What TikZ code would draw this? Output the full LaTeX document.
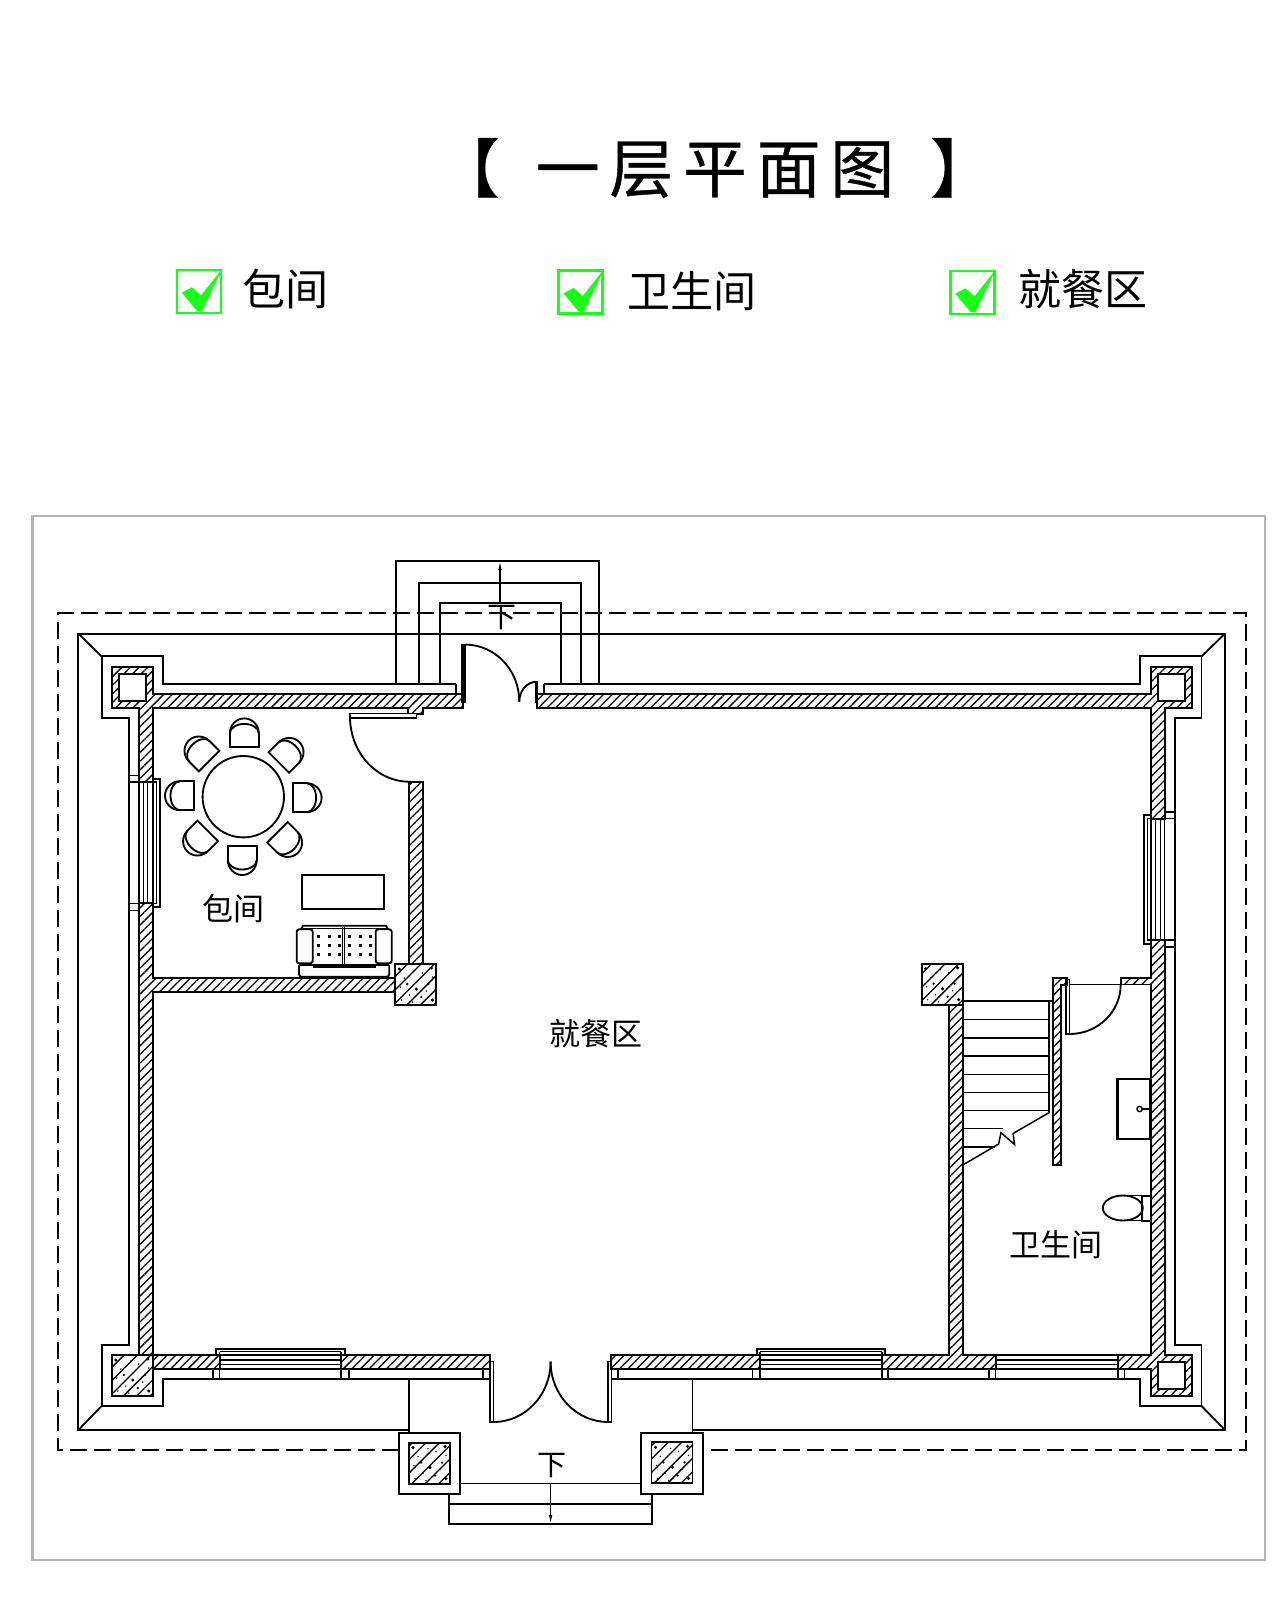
\documentclass[tikz,border=0pt]{standalone}
\usepackage{fontspec}
\setmainfont{Noto Sans CJK SC}
\newfontfamily\titlefont[LetterSpace=15,FakeBold=0.6]{Noto Sans CJK SC}
\usetikzlibrary{patterns.meta}
\usetikzlibrary{arrows.meta}

\definecolor{framegray}{HTML}{B4B4B4}
\definecolor{checkgreen}{HTML}{18FF18}

\tikzset{
    wall/.style={draw, preaction={fill=white},
        pattern={Lines[angle=45, distance=6.1pt, line width=1.3pt]}},
    concrete/.style={draw, preaction={fill=white},
        pattern={Lines[angle=45, distance=9.5pt, line width=1.3pt]}},
    planlabel/.style={inner sep=0pt, font=\fontsize{31}{34}\selectfont},
    headlabel/.style={inner sep=0pt, font=\fontsize{43}{46}\selectfont},
    thinline/.style={line width=1.5pt},
}

\begin{document}
\begin{tikzpicture}[x=1pt, y=-1pt, line width=1.85pt]
\useasboundingbox (0,0) rectangle (1283,1600);

% title and list
\node [inner sep=0pt, font=\titlefont\fontsize{64}{70}\selectfont] (title) at (715,168) {【\hspace{12pt} 一层平面图 \hspace{12pt}】};
\foreach \bx/\by in {177/270, 558.7/270.7, 950.5/271} {
    \draw [checkgreen, line width=2.6pt] (\bx,\by) rectangle ++(44,43);
    \fill [checkgreen] (\bx,\by) ++(4.7,22.7) -- ++(10,-5.4) -- ++(9.3,8) -- ++(21.5,-27) -- ++(-20.8,43.4) -- ++(-4.7,-0.7) -- cycle;
}
\node [headlabel] (headroom) at (285,289.5) {包间};
\node [headlabel] (headbath) at (691.5,291) {卫生间};
\node [headlabel] (headdining) at (1083,289.5) {就餐区};

% frame
\draw [framegray, line width=2.6pt] (32.6,516) rectangle (1265,1560);

% dashed line and roof
\draw [dash pattern=on 17pt off 7pt] (399,1450) -- (58.4,1450) -- (58.4,613) -- (1246,613) -- (1246,1450) -- (703,1450);
\draw (409,1430) -- (78.4,1430) -- (78.4,633.6) -- (1225,633.6) -- (1225,1430) -- (692.5,1430);
\draw (78.4,633.6) -- (101.6,656.4);
\draw (1225,633.6) -- (1201.5,656.4);
\draw (1225,1430) -- (1201.5,1406);
\draw (78.4,1430) -- (101.6,1406);

% eaves
\draw (456,684.3) -- (163.3,684.3) -- (163.3,656.4) -- (101.6,656.4) -- (101.6,717.9) -- (129.4,717.9)
    -- (129.4,1345) -- (101.6,1345) -- (101.6,1406) -- (163.3,1406) -- (163.3,1379) -- (489.8,1379);
\draw (544,684.3) -- (1140.4,684.3) -- (1140.4,656.4) -- (1201.5,656.4) -- (1201.5,717.9) -- (1174.8,717.9)
    -- (1174.8,1345) -- (1201.5,1345) -- (1201.5,1406) -- (1140.4,1406) -- (1140.4,1379) -- (611,1379);

% back steps
\draw (396,684.3) -- (396,561) -- (598.8,561) -- (598.8,684.3);
\draw (419.2,684.3) -- (419.2,582.9) -- (581.2,582.9) -- (581.2,684.3);
\draw (439.6,684.3) -- (439.6,602.9) -- (561.2,602.9) -- (561.2,684.3);
\draw [line width=1.2pt, -{Latex[length=9pt, width=3.5pt]}] (500,602.9) -- (500,561);
\node [inner sep=0pt, font=\fontsize{29}{30}\selectfont] (backdown) at (501.5,618) {下};

% walls
\draw [wall] (463.3,694.3) -- (153,694.3) -- (153,666.8) -- (111.8,666.8) -- (111.8,708) -- (138.8,708)
    -- (138.8,782) -- (153,782) -- (153,708) -- (408.3,708) -- (408.3,714) -- (423.3,714) -- (423.3,708) -- (463.3,708) -- cycle;
\draw [wall] (537,694.3) -- (1151,694.3) -- (1151,666.8) -- (1192,666.8) -- (1192,708) -- (1164.6,708)
    -- (1164.6,818.6) -- (1151,818.6) -- (1151,708) -- (537,708) -- cycle;
\draw [wall] (138.8,903.3) -- (138.8,1355) -- (111.8,1355) -- (111.8,1396.4) -- (153,1396.4) -- (153,1369) -- (219.6,1369)
    -- (219.6,1355) -- (153,1355) -- (153,991.7) -- (395.3,991.7) -- (395.3,977.7) -- (153,977.7) -- (153,903.3) -- cycle;
\draw [wall] (1151,940) -- (1164.6,940) -- (1164.6,1355) -- (1192,1355) -- (1192,1396) -- (1151,1396) -- (1151,1369) -- (1118,1369)
    -- (1118,1355) -- (1151,1355) -- (1151,984.5) -- (1120.7,984.5) -- (1120.7,977.6) -- (1151,977.6) -- cycle;
\draw [wall] (881.8,1355) -- (948.6,1355) -- (948.6,1005) -- (963,1005) -- (963,1355) -- (995.7,1355) -- (995.7,1369) -- (881.8,1369) -- cycle;
\draw [wall] (1053,977.6) -- (1067.5,977.6) -- (1067.5,985) -- (1061,985) -- (1061,1165.3) -- (1053,1165.3) -- cycle;
\draw [wall] (409.3,781.7) rectangle (423.3,964);
\draw [wall] (341,1355) rectangle (489.8,1369);
\draw [wall] (611,1355) rectangle (760,1369);

% columns
\draw [fill=white] (118.8,674) rectangle (146.1,701);
\draw [fill=white] (1157.6,674) rectangle (1184.7,701);
\draw [fill=white] (1157.6,1362) rectangle (1184.7,1389.4);
\draw [fill=white] (398.8,1432.6) rectangle (460,1494);
\draw [fill=white] (641,1432.6) rectangle (703,1494);
\foreach \px/\py in {111.8/1355, 395.3/964, 921.6/963.7, 409/1442.6, 651.5/1442.4} {
    \draw [concrete] (\px,\py) rectangle ++(41,41);
    \foreach \dx/\dy/\ds in {4/5/1.7, 9/14/0.8, 14/31/0.8, 21/25/1.7, 27/9/0.8, 33/20/1.3, 36/4/1.7, 37/36/1.7, 6/36/0.8, 19/6/0.8, 5/23/0.8, 12/20/1.3, 26/33/1.3, 31/27/0.8, 17/38/0.8, 37/13/0.8}
        \fill (\px+\dx,\py+\dy) circle (\ds pt);
}

% front steps
\draw (409,1379) -- (409,1432.6);
\draw (692.5,1379) -- (692.5,1432.6);
\draw (460,1483.5) -- (641,1483.5);
\draw (449.4,1494) -- (449.4,1524) -- (652.3,1524) -- (652.3,1494);
\draw (449.4,1504) -- (652.3,1504);
\draw [line width=1.2pt, -{Latex[length=9pt, width=3.5pt]}] (550.6,1483.5) -- (550.6,1524);
\node [inner sep=0pt, font=\fontsize{29}{30}\selectfont] (frontdown) at (551.8,1466) {下};

% windows
\draw [thinline] (129.4,782) rectangle (156.7,903.3);
\draw (153,778.6) -- (160,778.6) -- (160,907) -- (153,907);
\draw [thinline] (129.4,775.7) rectangle (138.8,782);
\draw [thinline] (129.4,903.3) rectangle (138.8,910.7);
\foreach \wx in {138.8, 143.5, 147.5, 153}
    \draw [thinline] (\wx,782) -- (\wx,903.3);
\draw [thinline] (1147.4,818.6) rectangle (1174.8,940);
\draw (1151,815) -- (1144,815) -- (1144,944) -- (1151,944);
\draw [thinline] (1164.6,811.8) rectangle (1174.8,818.6);
\draw [thinline] (1164.6,940) rectangle (1174.8,947);
\foreach \wx in {1151, 1155.6, 1160.5, 1164.6}
    \draw [thinline] (\wx,818.6) -- (\wx,940);
\draw (219.6,1355) -- (216.3,1355) -- (216.3,1348.6) -- (345.3,1348.6) -- (345.3,1355);
\draw (756.8,1355) -- (756.8,1349) -- (885,1349) -- (885,1355);
\foreach \xa/\xb/\xc/\xd/\wt in {219.6/341/213/349/1351.5, 760/881.8/752.7/888/1351.5, 995.7/1118/989/1124.4/1355} {
    \draw [thinline] (\xa,\wt) -- (\xa,1379);
    \draw [thinline] (\xb,\wt) -- (\xb,1379);
    \draw [thinline] (\xa,\wt) -- (\xb,\wt);
    \foreach \wy in {1355, 1360, 1364.5, 1369}
        \draw [thinline] (\xa,\wy) -- (\xb,\wy);
    \draw [thinline] (\xc,1369) -- (\xc,1379);
    \draw [thinline] (\xd,1369) -- (\xd,1379);
}

% doors
\draw [thinline] (456,684.3) -- (456,694.3);
\draw [fill=black] (462.4,644.6) rectangle (465.3,701.8);
\draw (465.3,644.6) arc [start angle=-90, end angle=0, x radius=54, y radius=57];
\draw (519.3,701.8) arc [start angle=180, end angle=270, x radius=17, y radius=20];
\draw [fill=black] (535.5,682) rectangle (537.5,701.8);
\draw [thinline] (544,684.3) -- (544,694.3);
\draw [thinline, fill=white] (350,713.5) rectangle (416.3,718);
\draw (350,716.7) arc [start angle=180, end angle=90, x radius=59.3, y radius=65];
\draw [thinline] (483,1369) -- (483,1379);
\draw [thinline] (618,1369) -- (618,1379);
\draw [thinline] (489.8,1361.7) rectangle (493.5,1422);
\draw [thinline] (608.2,1361.7) rectangle (611.4,1422);
\draw (493.5,1422) arc [start angle=90, end angle=0, x radius=57.1, y radius=60.3];
\draw (608.2,1422) arc [start angle=90, end angle=180, x radius=57.6, y radius=60.3];
\draw [thinline] (1066,979.6) rectangle (1069.5,1034);
\draw [thinline] (1069.5,984.5) -- (1120.7,984.5);
\draw (1069.5,1034) arc [start angle=90, end angle=0, x radius=51.2, y radius=49.5];

% stairs
\draw (963,1001) -- (1053,1001);
\draw [thinline] (1049,1001) -- (1049,1112.2);
\foreach \sy in {1019.6, 1038, 1056, 1074.3, 1092.6, 1110.6}
    \draw [thinline] (963,\sy) -- (1049,\sy);
\draw [thinline] (963,1128.6) -- (1002.7,1128.6);
\draw [thinline] (963,1147) -- (994.5,1147);
\draw [thinline] (963,1164.9) -- (998.6,1144) -- (1001,1132.7) -- (1014.6,1144.5) -- (1013,1133.5) -- (1049.8,1112.2);

% dining table
\draw (243.3,796.7) circle (40.7pt);
\foreach \a in {0,45,...,315} {
    \begin{scope}[shift={(243.3,796.7)}, rotate=\a]
        \draw (63.3,-13.5) -- (49.3,-13.5) -- (49.3,15.5) -- (63.3,15.5);
        \draw (63.3,-13.5) arc [start angle=-90, end angle=90, x radius=15, y radius=14.5];
        \draw (63.3,-13.5) arc [start angle=-90, end angle=90, x radius=9.5, y radius=14.5];
    \end{scope}
}

% sofa and tea table
\draw (302.3,874.7) rectangle (383.7,908.7);
\draw [rounded corners=2.5pt] (296.7,929.3) rectangle (312.7,963.3);
\draw [rounded corners=2.5pt] (375.7,929.3) rectangle (391.7,963.3);
\draw [rounded corners=2.5pt] (299,965) -- (299,976.7) -- (389.3,976.7) -- (389.3,965);
\draw (299,965) -- (389.3,965);
\draw [thinline] (312.7,967) -- (375.7,967);
\draw (301,929.3) -- (303,925.7) -- (386,925.7) -- (388,929.3);
\draw [thinline] (303,928.3) -- (386,928.3);
\draw [thinline] (342.7,926.7) -- (342.7,965);
\draw [thinline] (344.7,926.7) -- (344.7,965);
\foreach \dx in {318, 329, 339.3, 349.3, 360, 370.7}
    \foreach \dy in {936, 945, 954}
        \fill (\dx-1.5,\dy-1.5) rectangle ++(3,3);

% bathroom
\draw [line width=2.5pt] (1117.5,1079) rectangle (1150.2,1138.8);
\draw [thinline] (1139.6,1109) circle (2.6pt);
\draw [thinline] (1142,1109) -- (1150,1109);
\draw (1122.8,1208) ellipse (20pt and 12.5pt);
\draw (1142,1196) rectangle (1151,1221);
\draw [thinline] (1122,1195.5) -- (1142,1195.5);
\draw [thinline] (1122,1220.5) -- (1142,1220.5);

% room names
\node [planlabel] (roomname) at (233,909) {包间};
\node [planlabel] (diningname) at (596,1034) {就餐区};
\node [planlabel] (bathname) at (1056,1245) {卫生间};
\end{tikzpicture}
\end{document}
